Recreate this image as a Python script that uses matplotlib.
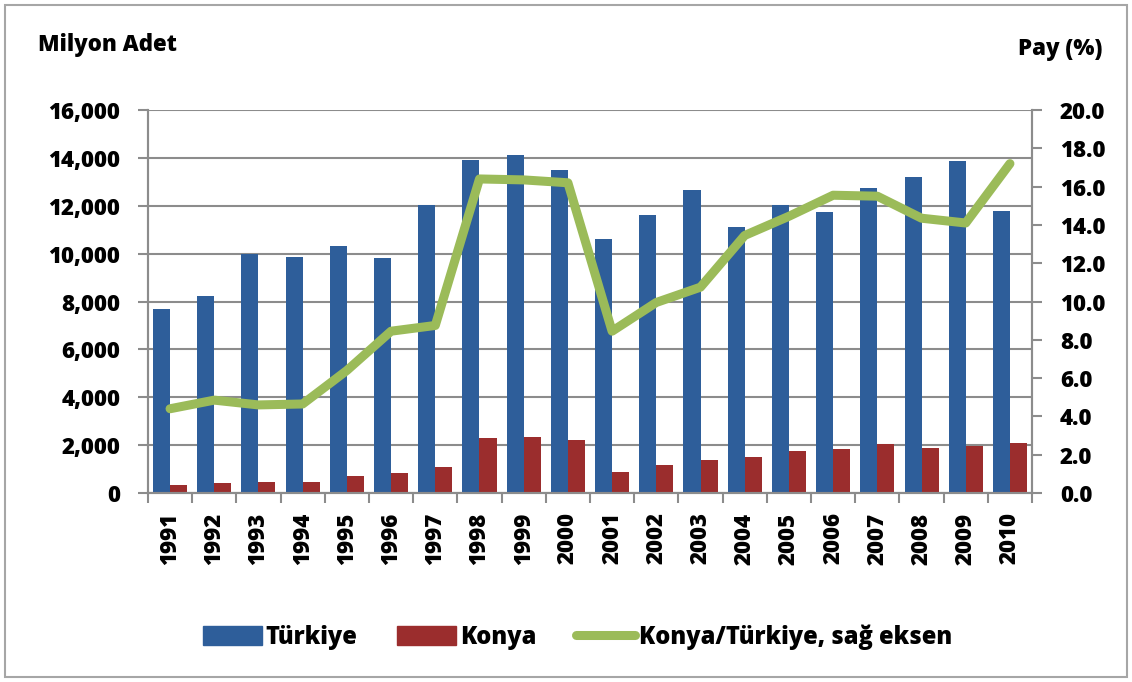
import numpy as np
import matplotlib
matplotlib.use("Agg")
import matplotlib.pyplot as plt
from matplotlib.patches import Rectangle
from matplotlib.lines import Line2D

years = [str(y) for y in range(1991, 2011)]
turkiye = [7700, 8250, 10000, 9850, 10300, 9800, 12050, 13900, 14100, 13500,
           10600, 11600, 12650, 11100, 12050, 11750, 12750, 13200, 13850, 11800]
konya = [350, 400, 480, 480, 700, 830, 1080, 2300, 2340, 2210,
         880, 1170, 1380, 1500, 1750, 1840, 2050, 1880, 1960, 2090]
ratio = [4.4, 4.85, 4.6, 4.65, 6.4, 8.45, 8.75, 16.4, 16.35, 16.2,
         8.45, 9.95, 10.75, 13.45, 14.45, 15.55, 15.5, 14.35, 14.1, 17.2]

BLUE = "#2E5E9A"
RED = "#9B2D2D"
GREEN = "#9BBB59"
GRID = "#8C8C8C"
FS = 16
WT = "heavy"

plt.rcParams["font.family"] = ["Open Sans", "DejaVu Sans"]
plt.rcParams["font.weight"] = WT

fig = plt.figure(figsize=(11.32, 6.82), dpi=100)
ax = fig.add_axes([0.1307, 0.2771, 0.7810, 0.5616])
ax2 = ax.twinx()

x = np.arange(len(years))
w = 0.385
ax.bar(x - w / 2, turkiye, w, color=BLUE, zorder=2)
ax.bar(x + w / 2, konya, w, color=RED, zorder=2)
ax2.plot(x, ratio, color=GREEN, lw=6.5, solid_capstyle="round",
         solid_joinstyle="round", zorder=3)

ax.set_xlim(-0.5, len(years) - 0.5)
ax.set_ylim(0, 16000)
ax2.set_ylim(0, 20)

ax.set_yticks(np.arange(0, 16001, 2000))
ax.set_yticklabels([f"{v:,}" for v in range(0, 16001, 2000)], fontsize=FS, fontweight=WT)
ax2.set_yticks(np.arange(0, 20.1, 2))
ax2.set_yticklabels([f"{v:.1f}" for v in np.arange(0, 20.1, 2)], fontsize=FS, fontweight=WT)

ax.set_xticks(x)
ax.set_xticklabels(years, rotation=90, fontsize=FS, fontweight=WT)
ax.set_xticks(np.arange(-0.5, len(years)), minor=True)
ax.tick_params(axis="x", which="major", length=0, pad=14)
ax.tick_params(axis="x", which="minor", length=7.5, color=GRID, width=1.5)
ax.tick_params(axis="y", length=7, color=GRID, width=1.5, pad=13)
ax2.tick_params(axis="y", length=7, color=GRID, width=1.5, pad=13)

ax.yaxis.grid(True, color=GRID, lw=1.5, zorder=0)
ax.set_axisbelow(True)
for a in (ax, ax2):
    a.spines["top"].set_visible(False)
    for s in ("left", "right", "bottom"):
        a.spines[s].set_color(GRID)
        a.spines[s].set_linewidth(1.5)

fig.text(38 / 1132, 1 - 45 / 682, "Milyon Adet", fontsize=FS, fontweight=WT, va="center")
fig.text(1102 / 1132, 1 - 49 / 682, "Pay (%)", fontsize=FS, fontweight=WT,
         va="center", ha="right")

handles = [Rectangle((0, 0), 1, 1, color=BLUE),
           Rectangle((0, 0), 1, 1, color=RED),
           Line2D([0], [0], color=GREEN, lw=6.5, solid_capstyle="round")]
fig.legend(handles, ["Türkiye", "Konya", "Konya/Türkiye, sağ eksen"],
           loc="center", bbox_to_anchor=(0.51, 1 - 637 / 682), ncol=3,
           frameon=False, handlelength=2.5, handleheight=0.85,
           handletextpad=0.15, columnspacing=1.7, prop={"weight": WT, "size": 17})

fig.add_artist(Rectangle((5 / 1132, 5 / 682), 1 - 10 / 1132, 1 - 10 / 682,
                         transform=fig.transFigure, fill=False,
                         edgecolor="#A6A6A6", lw=1.5))

fig.savefig("out.png", dpi=100)
